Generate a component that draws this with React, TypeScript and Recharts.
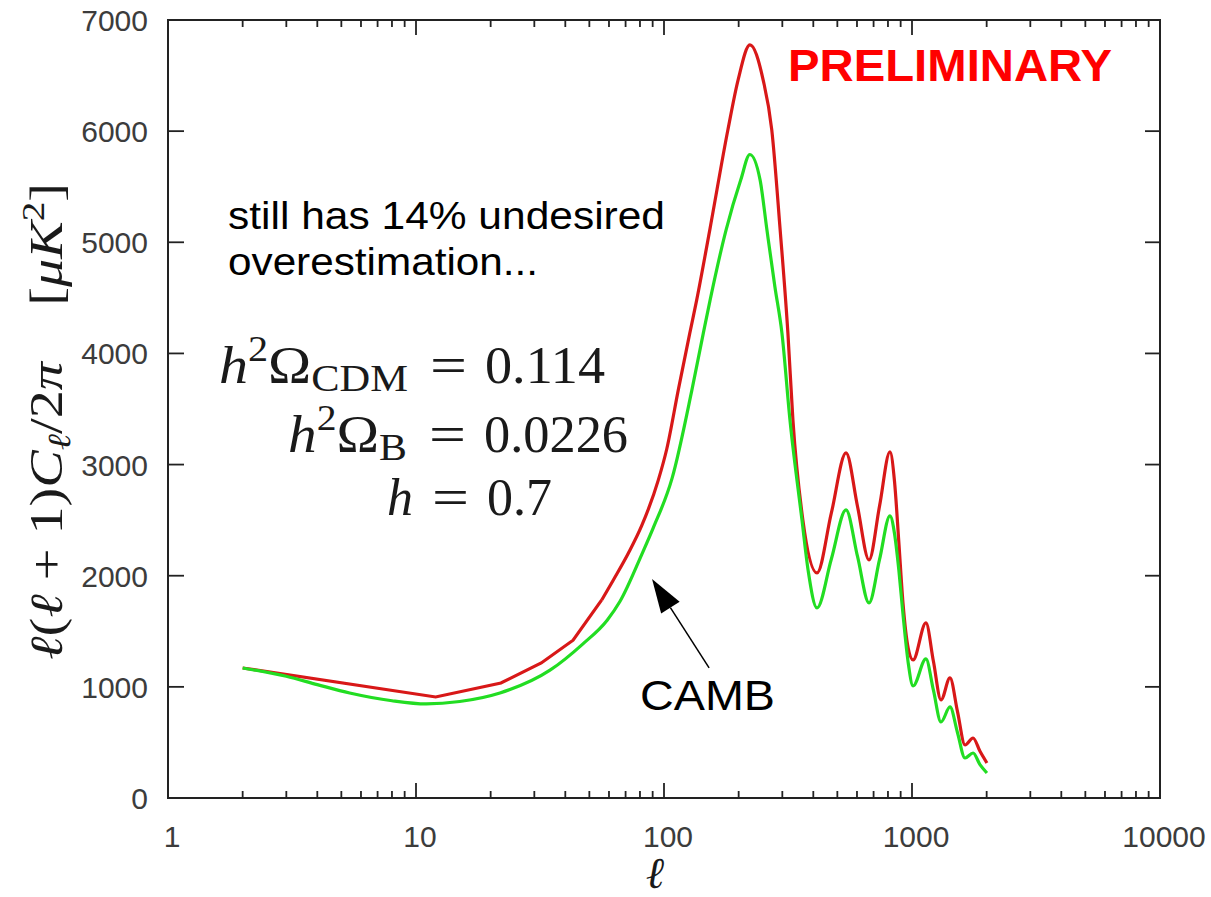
import React from "react";
import { LineChart, Line, XAxis, YAxis, ReferenceLine } from "recharts";

// CAMB theory curve (green)
const CAMB_ELL = [2, 3, 4, 5.4, 8, 11, 15, 21.8, 34.7, 47, 59, 66.5, 81.3, 90.5, 107.9, 129.6, 144, 153.5, 178, 204, 222, 244, 260, 280, 299, 322, 360, 381, 414, 473, 542, 603, 671, 740, 815, 850, 885, 920, 965, 1010, 1138, 1220, 1309, 1423, 1525, 1636, 1763, 1880, 2005];
const CAMB_VAL = [1170, 1095, 1020, 945, 875, 846, 868, 945, 1150, 1385, 1600, 1770, 2190, 2430, 2880, 3672, 4180, 4482, 5112, 5562, 5790, 5562, 5112, 4600, 4180, 3402, 2502, 2052, 1710, 2151, 2592, 2173, 1755, 2146, 2538, 2380, 2050, 1650, 1220, 1008, 1251, 970, 684, 819, 590, 360, 405, 300, 225];

// estimated spectrum (red): binned low-l part, then smooth part
const EST_LOW_ELL = [2, 12, 22, 32, 43, 56.1];
const EST_LOW_VAL = [1170, 909, 1035, 1215, 1420, 1782];
const EST_ELL = [56.1, 62.5, 71.8, 81.3, 94.9, 102.6, 114.2, 127, 135.5, 153, 181, 199, 222, 251, 272, 294, 316, 331, 363, 414, 473, 542, 603, 671, 740, 815, 850, 885, 920, 965, 1010, 1138, 1220, 1309, 1423, 1525, 1636, 1763, 1880, 2005];
const EST_VAL = [1782, 1962, 2202, 2450, 2862, 3140, 3672, 4180, 4482, 5112, 6012, 6462, 6777, 6462, 6012, 5112, 4180, 3402, 2502, 2025, 2565, 3105, 2623, 2142, 2628, 3114, 2850, 2300, 1750, 1350, 1242, 1575, 1230, 882, 1080, 780, 477, 540, 420, 315];

const X_MAJOR = [1, 10, 100, 1000, 10000];
const X_TICKS = [
  1, 2, 3, 4, 5, 6, 7, 8, 9,
  10, 20, 30, 40, 50, 60, 70, 80, 90,
  100, 200, 300, 400, 500, 600, 700, 800, 900,
  1000, 2000, 3000, 4000, 5000, 6000, 7000, 8000, 9000,
  10000,
];
const Y_TICKS = [0, 1000, 2000, 3000, 4000, 5000, 6000, 7000];

// arrow from the CAMB label to the green curve
const ARROW = [
  { x: 152, y: 1170 },
  { x: 89.5, y: 1971 },
];

const W = 1211;
const H = 897;
const TOP = 20;
const BOTTOM = 798;
const LEFT = 168;
const RIGHT = 1160;
const AXIS = "#222";
const RED = "#d81818";
const GREEN = "#22dd22";

const camb = CAMB_ELL.map((l, i) => ({ l, v: CAMB_VAL[i] }));
const estLow = EST_LOW_ELL.map((l, i) => ({ l, v: EST_LOW_VAL[i] }));
const est = EST_ELL.map((l, i) => ({ l, v: EST_VAL[i] }));

function XTick(props: any) {
  const { x, payload } = props;
  const v = payload.value;
  const major = X_MAJOR.includes(v);
  const len = major ? 15 : 7;
  return (
    <g>
      <line x1={x} y1={BOTTOM} x2={x} y2={BOTTOM - len} stroke={AXIS} strokeWidth={1.8} />
      <line x1={x} y1={TOP} x2={x} y2={TOP + len} stroke={AXIS} strokeWidth={1.8} />
      {major && (
        <text x={x + 4} y={847} textAnchor="middle" fontFamily="Liberation Sans, Arial, sans-serif" fontSize={30} fill="#3c3c3c">
          {v}
        </text>
      )}
    </g>
  );
}

function YTick(props: any) {
  const { y, payload } = props;
  return (
    <g>
      <line x1={LEFT} y1={y} x2={LEFT + 16} y2={y} stroke={AXIS} strokeWidth={1.8} />
      <line x1={RIGHT} y1={y} x2={RIGHT - 15} y2={y} stroke={AXIS} strokeWidth={1.8} />
      <text x={148} y={y + 11} textAnchor="end" fontFamily="Liberation Sans, Arial, sans-serif" fontSize={30} fill="#3c3c3c">
        {payload.value}
      </text>
    </g>
  );
}

function Arrow(props: any) {
  const { x1, y1, x2, y2 } = props;
  const dx = x2 - x1;
  const dy = y2 - y1;
  const d = Math.sqrt(dx * dx + dy * dy);
  const ux = dx / d;
  const uy = dy / d;
  const hl = 34;
  const hw = 11;
  const bx = x2 - ux * hl;
  const by = y2 - uy * hl;
  const pts = `${x2},${y2} ${bx - uy * hw},${by + ux * hw} ${bx + uy * hw},${by - ux * hw}`;
  return (
    <g>
      <line x1={x1} y1={y1} x2={bx} y2={by} stroke="#000" strokeWidth={1.5} />
      <polygon points={pts} fill="#000" />
    </g>
  );
}

const serif = "Liberation Serif, DejaVu Serif, serif";
const sans = "Liberation Sans, Arial, sans-serif";

export default function App() {
  return (
    <div style={{ position: "absolute", left: 0, top: 0, width: W, height: H, background: "#fff" }}>
      <LineChart width={W} height={H} margin={{ top: TOP, right: W - RIGHT, bottom: 0, left: 0 }}>
        <XAxis
          dataKey="l"
          type="number"
          scale="log"
          domain={[1, 10000]}
          ticks={X_TICKS}
          interval={0}
          height={H - BOTTOM}
          axisLine={false}
          tickLine={false}
          tick={<XTick />}
          allowDataOverflow
        />
        <YAxis
          type="number"
          domain={[0, 7000]}
          ticks={Y_TICKS}
          interval={0}
          width={LEFT}
          axisLine={false}
          tickLine={false}
          tick={<YTick />}
        />
        <Line data={estLow} dataKey="v" type="linear" stroke={RED} strokeWidth={3.2} dot={false} isAnimationActive={false} />
        <Line data={est} dataKey="v" type="monotone" stroke={RED} strokeWidth={3.2} dot={false} isAnimationActive={false} />
        <Line data={camb} dataKey="v" type="monotone" stroke={GREEN} strokeWidth={3.2} dot={false} isAnimationActive={false} />
        <ReferenceLine segment={ARROW} shape={(p: any) => <Arrow {...p} />} />
      </LineChart>
      <svg width={W} height={H} style={{ position: "absolute", left: 0, top: 0, pointerEvents: "none" }}>
        <rect x={LEFT} y={TOP} width={RIGHT - LEFT} height={BOTTOM - TOP} fill="none" stroke={AXIS} strokeWidth={2} />
        <text x={788} y={81} fontFamily={sans} fontWeight="bold" fontSize={44} fill="#ff0000" textLength={324} lengthAdjust="spacingAndGlyphs">
          PRELIMINARY
        </text>
        <text x={228} y={229} fontFamily={sans} fontSize={38} fill="#000" textLength={437} lengthAdjust="spacingAndGlyphs">
          still has 14% undesired
        </text>
        <text x={228} y={275} fontFamily={sans} fontSize={38} fill="#000" textLength={310} lengthAdjust="spacingAndGlyphs">
          overestimation...
        </text>
        <text x={640} y={710} fontFamily={sans} fontSize={42} fill="#000" textLength={135} lengthAdjust="spacingAndGlyphs">
          CAMB
        </text>
        {/* parameter block */}
        <g fontFamily={serif} fontSize={52} fill="#1a1a1a">
          <text x={219} y={383} textLength={189} lengthAdjust="spacingAndGlyphs">
            <tspan fontStyle="italic">h</tspan>
            <tspan fontSize={36} dy={-22}>2</tspan>
            <tspan dy={22}>Ω</tspan>
            <tspan fontSize={38} dy={8}>CDM</tspan>
          </text>
          <text x={430} y={383} textLength={37} lengthAdjust="spacingAndGlyphs">=</text>
          <text x={485} y={383} textLength={120} lengthAdjust="spacingAndGlyphs">0.114</text>
          <text x={288} y={452} textLength={119} lengthAdjust="spacingAndGlyphs">
            <tspan fontStyle="italic">h</tspan>
            <tspan fontSize={36} dy={-22}>2</tspan>
            <tspan dy={22}>Ω</tspan>
            <tspan fontSize={38} dy={8}>B</tspan>
          </text>
          <text x={429} y={452} textLength={37} lengthAdjust="spacingAndGlyphs">=</text>
          <text x={484} y={452} textLength={144} lengthAdjust="spacingAndGlyphs">0.0226</text>
          <text x={387} y={515} fontStyle="italic" textLength={26} lengthAdjust="spacingAndGlyphs">h</text>
          <text x={432} y={515} textLength={37} lengthAdjust="spacingAndGlyphs">=</text>
          <text x={487} y={515} textLength={65} lengthAdjust="spacingAndGlyphs">0.7</text>
        </g>
        {/* axis titles */}
        <text transform="translate(62,660) rotate(-90)" fontFamily={serif} fontSize={46} fill="#1a1a1a" textLength={477} lengthAdjust="spacingAndGlyphs">
          <tspan fontStyle="italic">ℓ</tspan>
          <tspan>(</tspan>
          <tspan fontStyle="italic">ℓ</tspan>
          <tspan> + 1)</tspan>
          <tspan fontStyle="italic">C</tspan>
          <tspan fontStyle="italic" fontSize={32} dy={8}>ℓ</tspan>
          <tspan dy={-8}>/2</tspan>
          <tspan fontStyle="italic">π</tspan>
          <tspan>{"\u2003"}[</tspan>
          <tspan fontStyle="italic">μK</tspan>
          <tspan fontSize={32} dy={-18}>2</tspan>
          <tspan dy={18}>]</tspan>
        </text>
        <text x={655} y={888} textAnchor="middle" fontFamily={serif} fontStyle="italic" fontSize={44} fill="#1a1a1a">
          ℓ
        </text>
      </svg>
    </div>
  );
}
